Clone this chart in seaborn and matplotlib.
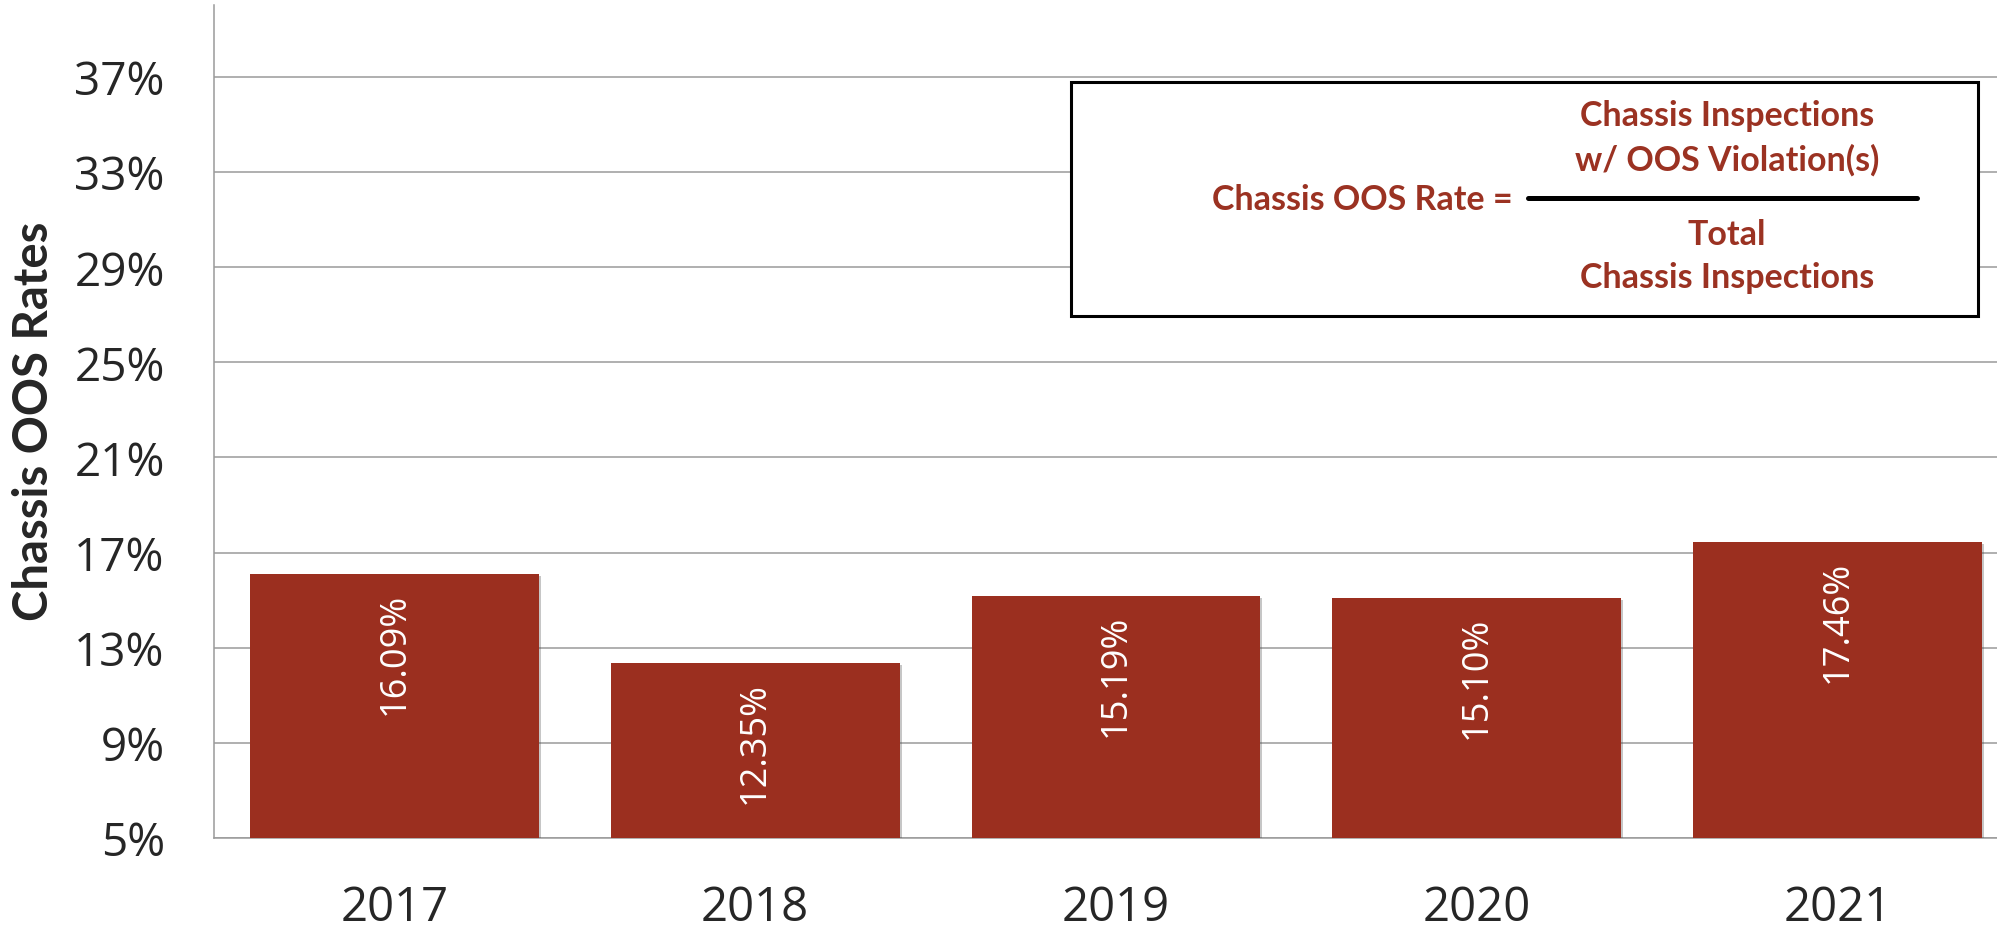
import matplotlib
matplotlib.use("Agg")
import matplotlib.pyplot as plt
import matplotlib.patheffects as pe
from matplotlib.patches import Rectangle
from matplotlib.lines import Line2D
import seaborn as sns

# chart data
years = ["2017", "2018", "2019", "2020", "2021"]
oos_rates = [16.09, 12.35, 15.19, 15.10, 17.46]
y_ticks = [5, 9, 13, 17, 21, 25, 29, 33, 37]

bar_color = "#9B2F1F"
text_red = "#9B3222"
grid_gray = "#9a9a9a"

sns.set_style("white")
plt.rcParams["font.family"] = ["Open Sans", "DejaVu Sans"]

W, H = 1997, 929
fig = plt.figure(figsize=(W / 100, H / 100), dpi=100)


def fx(px):
    return px / W


def fy(py):
    return 1 - py / H


ax = fig.add_axes([fx(214), fy(839), fx(2018 - 214), (839 - 6.4) / H])

sns.barplot(x=years, y=oos_rates, color=bar_color, width=0.8,
            saturation=1, edgecolor=bar_color, linewidth=0, ax=ax, zorder=3)

for bar in ax.patches:
    bar.set_path_effects([pe.SimplePatchShadow(offset=(1.5, -1.5), alpha=0.3,
                                               shadow_rgbFace="#444444"),
                          pe.Normal()])

ax.set_ylim(5, 40)
ax.set_xlim(-0.5, len(years) - 0.5)
ax.set_yticks(y_ticks)
ax.set_yticklabels([f"{t}%" for t in y_ticks])
ax.yaxis.grid(True, color=grid_gray, linewidth=1.1, zorder=0)
ax.set_axisbelow(True)

# category labels in the middle, tick marks on the boundaries
ax.set_xticks(range(len(years)))
ax.set_xticklabels(years)
ax.set_xticks([i - 0.5 for i in range(len(years) + 1)], minor=True)
ax.tick_params(axis="x", which="major", length=0, labelsize=34, pad=33)
ax.tick_params(axis="x", which="minor", length=13, width=1.1, color=grid_gray)
ax.tick_params(axis="y", length=11.5, width=1.1, color=grid_gray,
               labelsize=33, pad=24)

for side in ["top", "right"]:
    ax.spines[side].set_visible(False)
for side in ["left", "bottom"]:
    ax.spines[side].set_color(grid_gray)
    ax.spines[side].set_linewidth(1.1)
ax.set_xlabel("")
ax.set_ylabel("")

# value labels inside the bars, rotated
for i, v in enumerate(oos_rates):
    ax.annotate(f"{v:.2f}%", xy=(i, v), xytext=(0, -13),
                textcoords="offset points", rotation=90,
                ha="center", va="top", color="white", fontsize=26, zorder=4)

fig.text(fx(34), fy(421), "Chassis OOS Rates", rotation=90, ha="center",
         va="center", fontsize=34, fontweight="bold", family="Lato")

# formula box
fig.add_artist(Rectangle((fx(1071), fy(317)), fx(1978 - 1071), (317 - 83) / H,
                         transform=fig.transFigure, facecolor="white",
                         edgecolor="black", linewidth=2.2, zorder=5))
box_font = dict(color=text_red, fontsize=24.5, fontweight="bold",
                family="Lato", zorder=6)
fig.text(fx(1513), fy(200), "Chassis OOS Rate =", ha="right", va="center",
         **box_font)
fig.add_artist(Line2D([fx(1528), fx(1917)], [fy(199), fy(199)],
                      transform=fig.transFigure, color="black",
                      linewidth=3.6, zorder=6))
fig.text(fx(1727), fy(116), "Chassis Inspections", ha="center", va="center",
         **box_font)
fig.text(fx(1727), fy(160), "w/ OOS Violation(s)", ha="center", va="center",
         **box_font)
fig.text(fx(1727), fy(235), "Total", ha="center", va="center", **box_font)
fig.text(fx(1727), fy(278), "Chassis Inspections", ha="center", va="center",
         **box_font)

fig.savefig("out.png", dpi=100)
